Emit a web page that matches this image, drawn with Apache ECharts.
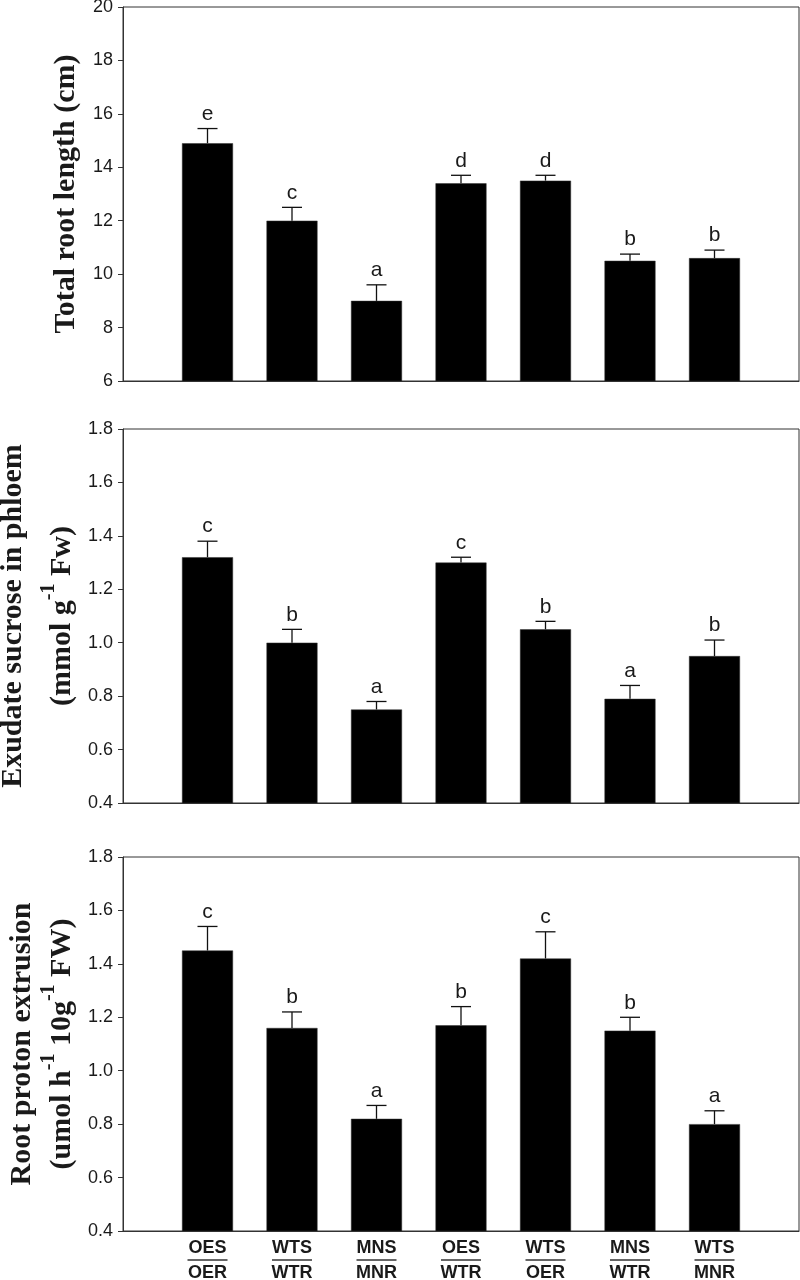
<!DOCTYPE html>
<html>
<head>
<meta charset="utf-8">
<script src="https://cdn.jsdelivr.net/npm/echarts@6/dist/echarts.min.js"></script>
<style>
  html, body { margin: 0; padding: 0; background: #fff; }
  #chart { width: 800px; height: 1280px; }
</style>
</head>
<body>
<div id="chart"></div>
<script>
// x categories: shoot / root combinations
const shootLabels = ['OES', 'WTS', 'MNS', 'OES', 'WTS', 'MNS', 'WTS'];
const rootLabels = ['OER', 'WTR', 'MNR', 'WTR', 'OER', 'WTR', 'MNR'];

// panel 1: total root length (cm)
const lengthVals = [14.9, 12.0, 9.0, 13.4, 13.5, 10.5, 10.6];
const lengthErr = [0.55, 0.5, 0.6, 0.3, 0.2, 0.25, 0.3];
const lengthLetters = ['e', 'c', 'a', 'd', 'd', 'b', 'b'];

// panel 2: exudate sucrose in phloem
const sucroseVals = [1.32, 1.0, 0.75, 1.3, 1.05, 0.79, 0.95];
const sucroseErr = [0.06, 0.05, 0.03, 0.02, 0.03, 0.05, 0.06];
const sucroseLetters = ['c', 'b', 'a', 'c', 'b', 'a', 'b'];

// panel 3: root proton extrusion
const protonVals = [1.45, 1.16, 0.82, 1.17, 1.42, 1.15, 0.8];
const protonErr = [0.09, 0.06, 0.05, 0.07, 0.1, 0.05, 0.05];
const protonLetters = ['c', 'b', 'a', 'b', 'c', 'b', 'a'];

const sans = '"Liberation Sans", Arial, sans-serif';
const serif = '"Liberation Serif", "Times New Roman", serif';
const ink = '#1a1a1a';

const chart = echarts.init(document.getElementById('chart'));

const grids = [
  { left: 123, right: 1, top: 7, height: 374 },
  { left: 123, right: 1, top: 429, height: 374 },
  { left: 123, right: 1, top: 857, height: 374 }
].map(g => Object.assign({ show: true, borderColor: '#333', borderWidth: 1, outerBoundsMode: 'none', containLabel: false }, g));

function xAxis(idx, showLabels) {
  return {
    type: 'value', gridIndex: idx, min: 0, max: 8, interval: 1,
    axisLine: { show: true, lineStyle: { color: '#333' } },
    axisTick: { show: false },
    splitLine: { show: false },
    axisLabel: {
      show: showLabels,
      margin: 8,
      formatter: v => (v >= 1 && v <= 7) ? `{t|${shootLabels[v - 1]}}\n{l| }\n{b|${rootLabels[v - 1]}}` : '',
      rich: {
        t: { fontFamily: sans, fontWeight: 'bold', fontSize: 18, color: ink, lineHeight: 18 },
        l: { width: 40, height: 2, lineHeight: 6, fontSize: 2, backgroundColor: '#666' },
        b: { fontFamily: sans, fontWeight: 'bold', fontSize: 18, color: ink, lineHeight: 21 }
      }
    }
  };
}

function yAxis(idx, min, max, interval, digits, name, gap, rich) {
  return {
    type: 'value', gridIndex: idx, min, max, interval,
    name, nameLocation: 'middle', nameRotate: 90, nameGap: gap,
    nameTextStyle: { rich },
    axisLine: { show: true, lineStyle: { color: '#333' } },
    axisTick: { show: true, inside: false, length: 5, lineStyle: { color: '#333' } },
    splitLine: { show: false },
    axisLabel: {
      margin: 10, fontFamily: sans, fontSize: 18, color: ink,
      formatter: v => v.toFixed(digits)
    }
  };
}

const titleRich = {
  a: { fontFamily: serif, fontWeight: 'bold', fontSize: 30, color: ink, lineHeight: 34 },
  w: { fontFamily: serif, fontWeight: 'bold', fontSize: 30, color: ink, lineHeight: 52 },
  b: { fontFamily: serif, fontWeight: 'bold', fontSize: 30, color: ink, lineHeight: 38, verticalAlign: 'bottom' },
  s: { fontFamily: serif, fontWeight: 'bold', fontSize: 20, color: ink, lineHeight: 20, verticalAlign: 'top' }
};

function barSeries(idx, vals) {
  return {
    type: 'bar', xAxisIndex: idx, yAxisIndex: idx,
    data: vals.map((v, i) => [i + 1, v]),
    barWidth: 51,
    itemStyle: { color: '#000', borderColor: '#333', borderWidth: 0.5 },
    silent: true
  };
}

function errorSeries(idx, vals, errs, letters) {
  return {
    type: 'custom', xAxisIndex: idx, yAxisIndex: idx, z: 3, silent: true,
    data: vals.map((v, i) => [i + 1, v, errs[i]]),
    encode: { x: 0, y: 1 },
    renderItem: (params, api) => {
      const x = api.value(0), v = api.value(1), e = api.value(2);
      const base = api.coord([x, v]);
      const top = api.coord([x, v + e]);
      const stroke = { stroke: '#111', lineWidth: 1.3 };
      return {
        type: 'group',
        children: [
          { type: 'line', shape: { x1: base[0], y1: base[1], x2: top[0], y2: top[1] }, style: stroke },
          { type: 'line', shape: { x1: top[0] - 10, y1: top[1], x2: top[0] + 10, y2: top[1] }, style: stroke },
          {
            type: 'text', x: top[0], y: top[1] - 4,
            style: {
              text: letters[params.dataIndex], textAlign: 'center', textVerticalAlign: 'bottom',
              fontFamily: sans, fontSize: 21, fill: ink
            }
          }
        ]
      };
    }
  };
}

const option = {
  backgroundColor: '#fff',
  animation: false,
  grid: grids,
  xAxis: [xAxis(0, false), xAxis(1, false), xAxis(2, true)],
  yAxis: [
    yAxis(0, 6, 20, 2, 0, '{a|Total root length (cm)}', 40, titleRich),
    yAxis(1, 0.4, 1.8, 0.2, 1, '{w|Exudate sucrose in phloem}\n{b|(mmol g}{s|-1}{b| Fw)}', 42, titleRich),
    yAxis(2, 0.4, 1.8, 0.2, 1, '{a|Root proton extrusion}\n{b|(umol h}{s|-1}{b| 10g}{s|-1}{b| FW)}', 42, titleRich)
  ],
  series: [
    barSeries(0, lengthVals), errorSeries(0, lengthVals, lengthErr, lengthLetters),
    barSeries(1, sucroseVals), errorSeries(1, sucroseVals, sucroseErr, sucroseLetters),
    barSeries(2, protonVals), errorSeries(2, protonVals, protonErr, protonLetters)
  ]
};

chart.setOption(option);
</script>
</body>
</html>
